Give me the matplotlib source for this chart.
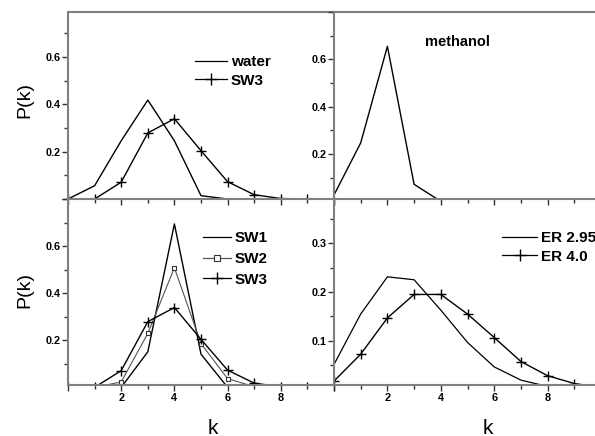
import matplotlib.pyplot as plt
from matplotlib.ticker import MultipleLocator, FuncFormatter

plt.rcParams['font.family'] = ['Liberation Sans', 'DejaVu Sans']

# degree distributions P(k)
k_water = [0, 1, 2, 3, 4, 5, 6, 7, 8, 9]
p_water = [0.0, 0.056, 0.246, 0.418, 0.246, 0.014, 0.0, 0.0, 0.0, 0.0]

k_sw = [0, 1, 2, 3, 4, 5, 6, 7, 8, 9]
p_sw1 = [0.0, 0.0, 0.0, 0.151, 0.694, 0.141, 0.0, 0.0, 0.0, 0.0]
p_sw2 = [0.0, 0.0, 0.023, 0.229, 0.508, 0.186, 0.037, 0.003, 0.0, 0.0]
p_sw3 = [0.0, 0.0, 0.071, 0.279, 0.339, 0.204, 0.073, 0.018, 0.002, 0.0]

k_meth = [0, 1, 2, 3, 4, 5, 6, 7, 8, 9]
p_meth = [0.027, 0.247, 0.655, 0.072, 0.0, 0.0, 0.0, 0.0, 0.0, 0.0]

k_er = [0, 1, 2, 3, 4, 5, 6, 7, 8, 9, 10]
p_er295 = [0.052, 0.155, 0.231, 0.225, 0.163, 0.097, 0.047, 0.020, 0.007, 0.002, 0.001]
p_er40 = [0.018, 0.073, 0.147, 0.195, 0.195, 0.155, 0.107, 0.058, 0.029, 0.013, 0.005]

W, H = 595, 436
fig = plt.figure(figsize=(W / 100, H / 100), dpi=100)


def box(x0, y0, x1, y1):
    return [x0 / W, 1 - y1 / H, (x1 - x0) / W, (y1 - y0) / H]


ax_tl = fig.add_axes(box(68, 12, 334, 199))
ax_tr = fig.add_axes(box(334, 12, 601, 199))
ax_bl = fig.add_axes(box(68, 199, 334, 385))
ax_br = fig.add_axes(box(334, 199, 601, 385))

spine_c = '#808080'


def style(ax, ylim, ymaj, top_row):
    lo, hi = ylim
    ax.set_xlim(0, 10)
    ax.set_ylim(lo, hi)
    ax.xaxis.set_major_locator(MultipleLocator(2))
    ax.xaxis.set_minor_locator(MultipleLocator(1))
    ax.yaxis.set_major_locator(MultipleLocator(ymaj))
    ax.yaxis.set_minor_locator(MultipleLocator(ymaj / 2))
    ax.yaxis.set_major_formatter(FuncFormatter(
        lambda v, p: '' if v < lo + 0.02 or v > hi - 0.02 else '%.1f' % v))
    if top_row:
        ax.xaxis.set_major_formatter(FuncFormatter(lambda v, p: ''))
        ax.spines['top'].set_visible(True)
    else:
        ax.xaxis.set_major_formatter(FuncFormatter(
            lambda v, p: '' if v < 1 or v > 9 else '%d' % v))
        ax.spines['top'].set_visible(False)
    ax.spines['right'].set_visible(False)
    for s in ax.spines.values():
        s.set_color(spine_c)
        s.set_linewidth(1.5)
    ax.tick_params(which='both', direction='out', color='#333333', width=1,
                   labelsize=7.8, pad=1.5, top=False, right=False)
    ax.tick_params(which='major', length=4)
    ax.tick_params(which='minor', length=3)
    for t in ax.get_xticklabels() + ax.get_yticklabels():
        t.set_fontweight('bold')
    ax.patch.set_alpha(0)


style(ax_tl, (0, 0.79), 0.2, True)
style(ax_tr, (0.01, 0.8), 0.2, True)
style(ax_bl, (0.01, 0.8), 0.2, False)
style(ax_br, (0.01, 0.39), 0.1, False)

lw = 1.0
plus = dict(marker='+', markersize=6.5, markeredgewidth=1.0)

# water vs SW3
ax_tl.plot(k_water, p_water, '-', color='k', lw=lw, label='water')
ax_tl.plot(k_sw, p_sw3, '-', color='k', lw=lw, label='SW3', **plus)

# methanol
ax_tr.plot(k_meth, p_meth, '-', color='k', lw=lw)
ax_tr.text(457 / W, 1 - 42 / H, 'methanol', transform=fig.transFigure,
           ha='center', va='center', fontsize=10.5, fontweight='bold')

# small-world networks
ax_bl.plot(k_sw, p_sw1, '-', color='k', lw=lw, label='SW1')
ax_bl.plot(k_sw, p_sw2, '-', color='#555555', lw=0.8, marker='s',
           markersize=3.5, markerfacecolor='white', markeredgecolor='#333333',
           markeredgewidth=0.8, label='SW2')
ax_bl.plot(k_sw, p_sw3, '-', color='k', lw=lw, label='SW3', **plus)

# random graphs
ax_br.plot(k_er, p_er295, '-', color='k', lw=0.9, label='ER 2.95')
ax_br.plot(k_er, p_er40, '-', color='k', lw=lw, label='ER 4.0', **plus)


def leg(ax, x, y, hlen, spacing):
    handles, labels = ax.get_legend_handles_labels()
    lg = ax.legend(handles, labels, loc='upper left',
                   bbox_to_anchor=(x / W, 1 - y / H),
                   bbox_transform=fig.transFigure, frameon=False,
                   borderpad=0, borderaxespad=0, handlelength=hlen,
                   handletextpad=0.25, labelspacing=spacing,
                   prop=dict(size=11, weight='bold'))
    for h in lg.legend_handles:
        h.set_linewidth(0.9)
        if h.get_marker() == '+':
            h.set_markersize(8)
        if h.get_marker() == 's':
            h.set_markersize(5)
    return lg


leg(ax_tl, 195, 55, 2.1, 0.3)
leg(ax_bl, 203, 231, 1.8, 0.45)
leg(ax_br, 502, 231, 2.3, 0.3)

fig.text(25 / W, 1 - 100 / H, 'P(k)', rotation=90, ha='center', va='center',
         fontsize=14)
fig.text(25 / W, 1 - 290 / H, 'P(k)', rotation=90, ha='center', va='center',
         fontsize=14)
fig.text(213 / W, 1 - 428 / H, 'k', ha='center', va='center', fontsize=15)
fig.text(488 / W, 1 - 428 / H, 'k', ha='center', va='center', fontsize=15)

fig.savefig('out.png', dpi=100)
